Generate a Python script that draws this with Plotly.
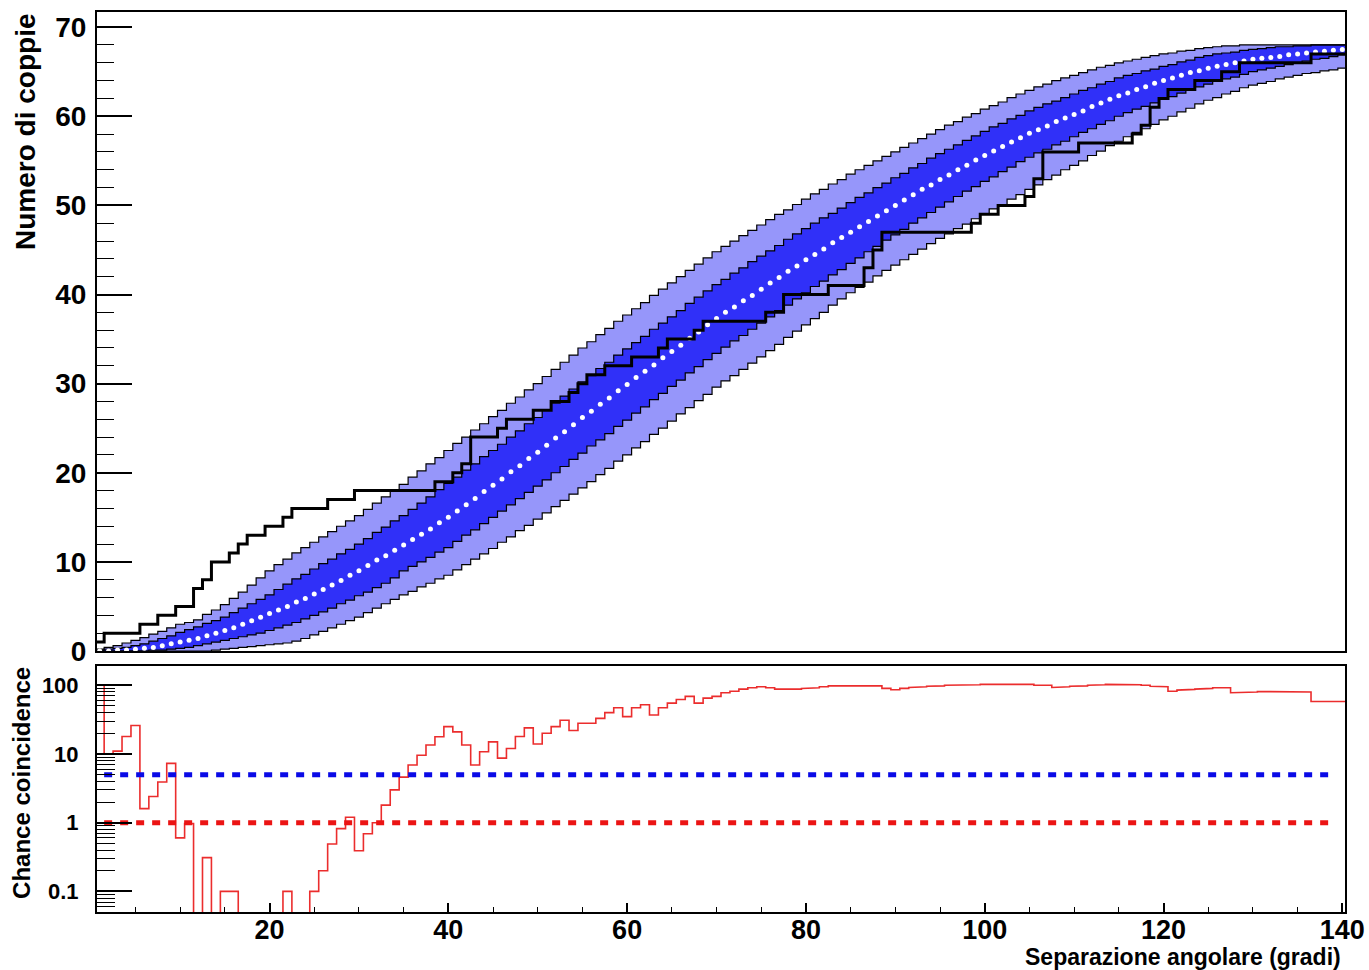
import plotly.graph_objects as go

# ---------------- data ----------------
BIN_CENTERS = list(range(1, 141))  # angular separation bins (deg), width 1

MEDIAN = [
    0.0, 0.0, 0.1, 0.1, 0.2, 0.3, 0.4, 0.6, 0.8, 1.0,
    1.2, 1.4, 1.7, 2.0, 2.3, 2.6, 3.0, 3.4, 3.8, 4.2,
    4.6, 5.0, 5.5, 5.9, 6.4, 6.9, 7.4, 7.9, 8.5, 9.0,
    9.6, 10.2, 10.7, 11.3, 11.9, 12.5, 13.1, 13.7, 14.4, 15.0,
    15.7, 16.4, 17.1, 17.9, 18.6, 19.3, 20.1, 20.8, 21.6, 22.3,
    23.1, 23.9, 24.6, 25.4, 26.2, 26.9, 27.7, 28.4, 29.2, 29.9,
    30.7, 31.4, 32.1, 32.9, 33.6, 34.3, 35.1, 35.8, 36.6, 37.3,
    38.0, 38.6, 39.3, 39.9, 40.6, 41.3, 41.9, 42.6, 43.2, 43.9,
    44.5, 45.1, 45.8, 46.4, 47.0, 47.6, 48.2, 48.8, 49.4, 50.0,
    50.6, 51.2, 51.8, 52.3, 52.9, 53.4, 54.0, 54.5, 55.1, 55.6,
    56.1, 56.6, 57.1, 57.6, 58.1, 58.5, 58.9, 59.4, 59.8, 60.2,
    60.6, 61.1, 61.5, 61.9, 62.3, 62.6, 63.0, 63.3, 63.7, 64.0,
    64.3, 64.6, 64.9, 65.1, 65.4, 65.6, 65.8, 66.0, 66.2, 66.4,
    66.5, 66.6, 66.7, 66.9, 67.0, 67.1, 67.2, 67.3, 67.4, 67.5,
]

DARK_HI = [
    0.1, 0.2, 0.3, 0.4, 0.6, 0.8, 1.1, 1.4, 1.7, 2.1,
    2.4, 2.7, 3.1, 3.4, 3.8, 4.3, 4.8, 5.3, 5.8, 6.3,
    6.9, 7.5, 8.1, 8.6, 9.2, 9.8, 10.3, 10.9, 11.4, 12.0,
    12.6, 13.3, 13.9, 14.6, 15.2, 15.9, 16.6, 17.3, 18.1, 18.8,
    19.5, 20.3, 21.0, 21.8, 22.5, 23.2, 24.0, 24.7, 25.5, 26.2,
    27.0, 27.8, 28.6, 29.4, 30.2, 30.9, 31.7, 32.4, 33.2, 33.9,
    34.6, 35.3, 36.1, 36.8, 37.5, 38.2, 39.0, 39.7, 40.4, 41.1,
    41.7, 42.4, 43.0, 43.7, 44.3, 44.9, 45.5, 46.2, 46.8, 47.4,
    48.0, 48.6, 49.1, 49.7, 50.3, 50.9, 51.4, 52.0, 52.5, 53.1,
    53.6, 54.2, 54.7, 55.3, 55.8, 56.3, 56.8, 57.3, 57.8, 58.3,
    58.8, 59.2, 59.7, 60.1, 60.6, 61.0, 61.4, 61.7, 62.1, 62.5,
    62.9, 63.2, 63.6, 63.9, 64.3, 64.6, 64.8, 65.1, 65.3, 65.6,
    65.8, 66.1, 66.3, 66.6, 66.8, 67.0, 67.1, 67.2, 67.4, 67.5,
    67.6, 67.7, 67.8, 67.8, 67.9, 67.9, 68.0, 68.0, 68.0, 68.0,
]

DARK_LO = [
    0.0, 0.0, 0.0, 0.0, 0.0, 0.0, 0.1, 0.1, 0.2, 0.3,
    0.4, 0.6, 0.8, 1.0, 1.2, 1.4, 1.6, 1.8, 2.0, 2.3,
    2.6, 2.9, 3.2, 3.6, 4.0, 4.4, 4.8, 5.3, 5.7, 6.2,
    6.6, 7.1, 7.6, 8.2, 9.0, 9.5, 10.0, 10.5, 11.1, 11.6,
    12.3, 13.0, 13.6, 14.3, 15.0, 15.7, 16.4, 17.1, 17.8, 18.5,
    19.2, 20.0, 20.7, 21.5, 22.2, 23.0, 23.7, 24.4, 25.2, 25.9,
    26.7, 27.4, 28.2, 28.9, 29.7, 30.4, 31.2, 31.9, 32.7, 33.4,
    34.1, 34.8, 35.4, 36.1, 36.8, 37.5, 38.2, 38.8, 39.5, 40.2,
    40.9, 41.5, 42.2, 42.8, 43.5, 44.1, 44.8, 45.4, 46.1, 46.7,
    47.3, 48.0, 48.6, 49.2, 49.8, 50.4, 51.0, 51.6, 52.1, 52.7,
    53.2, 53.8, 54.3, 54.9, 55.4, 55.9, 56.3, 56.8, 57.2, 57.7,
    58.2, 58.6, 59.1, 59.5, 60.0, 60.4, 60.8, 61.1, 61.5, 61.9,
    62.2, 62.6, 62.9, 63.3, 63.6, 63.9, 64.2, 64.4, 64.7, 65.0,
    65.2, 65.4, 65.6, 65.8, 66.0, 66.2, 66.4, 66.5, 66.7, 66.9,
]

LIGHT_HI = [
    0.2, 0.4, 0.6, 0.9, 1.2, 1.5, 1.9, 2.2, 2.6, 3.0,
    3.2, 3.5, 4.1, 4.6, 5.2, 5.9, 6.6, 7.4, 8.2, 9.0,
    9.7, 10.3, 11.0, 11.6, 12.2, 12.8, 13.4, 14.0, 14.6, 15.2,
    15.9, 16.6, 17.3, 18.0, 18.7, 19.5, 20.2, 21.0, 21.7, 22.5,
    23.3, 24.0, 24.8, 25.5, 26.3, 27.0, 27.8, 28.5, 29.3, 30.0,
    30.8, 31.6, 32.4, 33.2, 34.0, 34.7, 35.5, 36.2, 37.0, 37.7,
    38.4, 39.1, 39.9, 40.6, 41.3, 42.0, 42.7, 43.4, 44.1, 44.8,
    45.4, 46.0, 46.6, 47.2, 47.8, 48.4, 49.0, 49.5, 50.1, 50.7,
    51.3, 51.8, 52.4, 52.9, 53.5, 54.0, 54.5, 55.0, 55.5, 56.0,
    56.5, 57.0, 57.5, 58.0, 58.5, 59.0, 59.4, 59.9, 60.3, 60.8,
    61.2, 61.6, 62.1, 62.5, 62.9, 63.3, 63.6, 64.0, 64.3, 64.6,
    64.9, 65.2, 65.5, 65.7, 66.0, 66.2, 66.4, 66.6, 66.8, 67.0,
    67.1, 67.3, 67.4, 67.6, 67.7, 67.8, 67.9, 67.9, 68.0, 68.0,
    68.0, 68.0, 68.0, 68.0, 68.0, 68.0, 68.0, 68.0, 68.0, 68.0,
]

LIGHT_LO = [
    0.0, 0.0, 0.0, 0.0, 0.0, 0.0, 0.0, 0.0, 0.0, 0.0,
    0.0, 0.0, 0.0, 0.1, 0.2, 0.3, 0.4, 0.5, 0.6, 0.7,
    0.8, 0.9, 1.1, 1.4, 1.8, 2.2, 2.6, 3.0, 3.4, 3.8,
    4.3, 4.8, 5.3, 5.8, 6.3, 6.7, 7.2, 7.6, 8.1, 8.5,
    9.1, 9.7, 10.3, 10.9, 11.5, 12.2, 12.8, 13.5, 14.1, 14.8,
    15.5, 16.2, 16.9, 17.6, 18.3, 19.0, 19.8, 20.5, 21.3, 22.0,
    22.8, 23.5, 24.3, 25.0, 25.8, 26.6, 27.3, 28.1, 28.8, 29.6,
    30.3, 30.9, 31.6, 32.3, 33.0, 33.7, 34.4, 35.2, 35.9, 36.6,
    37.3, 38.0, 38.8, 39.5, 40.2, 40.8, 41.4, 42.1, 42.7, 43.3,
    43.9, 44.5, 45.1, 45.7, 46.3, 46.8, 47.4, 47.9, 48.5, 49.0,
    49.6, 50.1, 50.7, 51.2, 51.8, 52.3, 52.9, 53.4, 54.0, 54.5,
    55.0, 55.6, 56.1, 56.7, 57.2, 57.7, 58.2, 58.6, 59.1, 59.6,
    60.0, 60.5, 60.9, 61.4, 61.8, 62.1, 62.5, 62.8, 63.2, 63.5,
    63.7, 63.9, 64.2, 64.4, 64.6, 64.8, 64.9, 65.1, 65.2, 65.4,
]

DATA_COUNTS = [
    1, 2, 2, 2, 2, 3, 3, 4, 4, 5,
    5, 7, 8, 10, 10, 11, 12, 13, 13, 14,
    14, 15, 16, 16, 16, 16, 17, 17, 17, 18,
    18, 18, 18, 18, 18, 18, 18, 18, 19, 19,
    20, 21, 24, 24, 24, 25, 26, 26, 26, 27,
    27, 28, 28, 29, 30, 31, 31, 32, 32, 32,
    33, 33, 33, 34, 35, 35, 35, 36, 37, 37,
    37, 37, 37, 37, 37, 38, 38, 40, 40, 40,
    40, 40, 41, 41, 41, 41, 43, 45, 47, 47,
    47, 47, 47, 47, 47, 47, 47, 47, 48, 49,
    49, 50, 50, 50, 51, 53, 56, 56, 56, 56,
    57, 57, 57, 57, 57, 57, 58, 59, 61, 62,
    63, 63, 63, 64, 64, 64, 65, 65, 66, 66,
    66, 66, 66, 66, 66, 66, 67, 67, 67, 67,
]

CHANCE = [
    100, 10, 11, 18, 26, 1.6, 2.4, 3.9, 7.3, 0.6,
    0.97, 0, 0.31, 0, 0.1, 0.1, 0, 0, 0, 0,
    0, 0.1, 0, 0, 0.1, 0.2, 0.49, 0.82, 1.2, 0.39,
    0.69, 1.0, 1.8, 3.0, 4.6, 6.9, 9.6, 13.5, 17.8, 25,
    21, 13.5, 6.9, 10.8, 15, 8.7, 12, 18, 24, 14,
    20, 25, 31, 22, 28, 28, 33, 40, 47, 35,
    47, 52, 37, 47, 55, 62, 69, 55, 65, 69,
    78, 82, 88, 92, 95, 92, 88, 87, 88, 90,
    92, 95, 98, 98, 100, 100, 100, 98, 90, 86,
    90, 93, 95, 97, 98, 100, 100, 100, 102, 103,
    103, 103, 103, 103, 103, 100, 100, 93, 95, 97,
    98, 100, 102, 103, 103, 103, 102, 100, 97, 95,
    82, 85, 87, 88, 90, 92, 92, 78, 80, 80,
    81, 81, 82, 82, 82, 80, 58, 58, 58, 58,
]

THRESH_X = [1.5, 138.7]
THRESH_BLUE = 5
THRESH_RED = 1

Y_TICKS_TOP = [0, 10, 20, 30, 40, 50, 60, 70]
X_TICKS = [20, 40, 60, 80, 100, 120, 140]
Y_TICKS_LOG = [0.1, 1, 10, 100]
Y_TICKTEXT_LOG = ["0.1", "1", "10", "100"]

# ---------------- helpers ----------------
BIN_W = 1.0


def steps(vals, floor=None):
    xs, ys = [], []
    for c, v in zip(BIN_CENTERS, vals):
        if floor is not None and v <= 0:
            v = floor
        xs += [c - BIN_W / 2, c + BIN_W / 2]
        ys += [v, v]
    return xs, ys


FONT = "Liberation Sans"
LIGHT = "rgb(150,150,250)"
DARK = "rgb(48,48,248)"

fig = go.Figure()

# bands (fills)
for lo, hi, col in [(LIGHT_LO, LIGHT_HI, LIGHT), (DARK_LO, DARK_HI, DARK)]:
    xl, yl = steps(lo)
    xh, yh = steps(hi)
    fig.add_trace(go.Scatter(x=xl, y=yl, mode="lines", line=dict(width=0),
                             xaxis="x2", yaxis="y2", hoverinfo="skip"))
    fig.add_trace(go.Scatter(x=xh, y=yh, mode="lines", line=dict(width=0),
                             fill="tonexty", fillcolor=col,
                             xaxis="x2", yaxis="y2", hoverinfo="skip"))

# band outlines
for arr in [LIGHT_LO, LIGHT_HI, DARK_LO, DARK_HI]:
    xs, ys = steps(arr)
    fig.add_trace(go.Scatter(x=xs, y=ys, mode="lines",
                             line=dict(color="black", width=1.2),
                             xaxis="x2", yaxis="y2"))

# median (white dots)
fig.add_trace(go.Scatter(x=BIN_CENTERS, y=MEDIAN, mode="markers",
                         marker=dict(color="white", size=5, symbol="circle",
                                     line=dict(width=0)),
                         cliponaxis=False,
                         xaxis="x2", yaxis="y2"))

# data cumulative counts
xs, ys = steps(DATA_COUNTS)
fig.add_trace(go.Scatter(x=xs, y=ys, mode="lines",
                         line=dict(color="black", width=3),
                         xaxis="x2", yaxis="y2"))

# bottom panel: chance coincidence
xs, ys = steps(CHANCE, floor=1e-3)
fig.add_trace(go.Scatter(x=xs, y=ys, mode="lines",
                         line=dict(color="rgb(235,45,45)", width=1.6),
                         xaxis="x", yaxis="y"))
fig.add_trace(go.Scatter(x=THRESH_X, y=[THRESH_BLUE] * 2, mode="lines",
                         line=dict(color="rgb(10,10,230)", width=5, dash="8px,8px"),
                         xaxis="x", yaxis="y"))
fig.add_trace(go.Scatter(x=THRESH_X, y=[THRESH_RED] * 2, mode="lines",
                         line=dict(color="rgb(235,20,20)", width=5, dash="8px,8px"),
                         xaxis="x", yaxis="y"))

XR = [0.7, 140.3]
axis_common = dict(showline=True, mirror=True, linecolor="black", linewidth=2,
                   showgrid=False, zeroline=False, automargin=False)

fig.update_layout(
    width=1369, height=970,
    margin=dict(l=97, r=24, t=12, b=58, autoexpand=False),
    paper_bgcolor="white", plot_bgcolor="white",
    showlegend=False,
    xaxis=dict(domain=[0, 1], anchor="y", range=XR, **axis_common,
               tickmode="array", tickvals=X_TICKS,
               ticks="inside", ticklen=9, tickwidth=1.5, tickcolor="black",
               minor=dict(ticks="inside", ticklen=5, tickwidth=1.2, dtick=5,
                          tick0=0, tickcolor="black", showgrid=False),
               ticklabelstandoff=-7,
               tickfont=dict(family=FONT, size=27, color="black", weight="bold")),
    yaxis=dict(domain=[0, 0.2733], anchor="x", type="log", range=[-1.30, 2.28],
               **axis_common,
               tickmode="array", tickvals=Y_TICKS_LOG, ticktext=Y_TICKTEXT_LOG,
               ticks="inside", ticklen=35, tickwidth=1.5, tickcolor="black",
               minor=dict(ticks="inside", ticklen=18, tickwidth=1.2, dtick="D1",
                          tickcolor="black", showgrid=False),
               ticklabelstandoff=12,
               tickfont=dict(family=FONT, size=22, color="black", weight="bold")),
    xaxis2=dict(domain=[0, 1], anchor="y2", range=XR, **axis_common,
                showticklabels=False, ticks=""),
    yaxis2=dict(domain=[0.29, 1.0], anchor="x2", range=[0, 71.7], **axis_common,
                tickmode="array", tickvals=Y_TICKS_TOP,
                ticks="inside", ticklen=35, tickwidth=1.5, tickcolor="black",
                minor=dict(ticks="inside", ticklen=17, tickwidth=1.2, dtick=2,
                           tick0=0, tickcolor="black", showgrid=False),
                ticklabelstandoff=3,
                tickfont=dict(family=FONT, size=28, color="black", weight="bold")),
    annotations=[
        dict(text="Numero di coppie", xref="paper", yref="paper",
             x=-0.0577, y=1.0, xanchor="center", yanchor="top", textangle=-90,
             showarrow=False,
             font=dict(family=FONT, size=28, color="black", weight="bold")),
        dict(text="Chance coincidence", xref="paper", yref="paper",
             x=-0.061, y=0.2744, xanchor="center", yanchor="top", textangle=-90,
             showarrow=False,
             font=dict(family=FONT, size=24, color="black", weight="bold")),
        dict(text="Separazione angolare (gradi)", xref="paper", yref="paper",
             x=0.9984, y=-0.0505, xanchor="right", yanchor="middle",
             showarrow=False,
             font=dict(family=FONT, size=23, color="black", weight="bold")),
    ],
)

fig.write_html(
    "out.html",
    config={"displayModeBar": False},
    post_script="document.body.style.margin='0';"
                "document.body.style.overflow='hidden';",
)
